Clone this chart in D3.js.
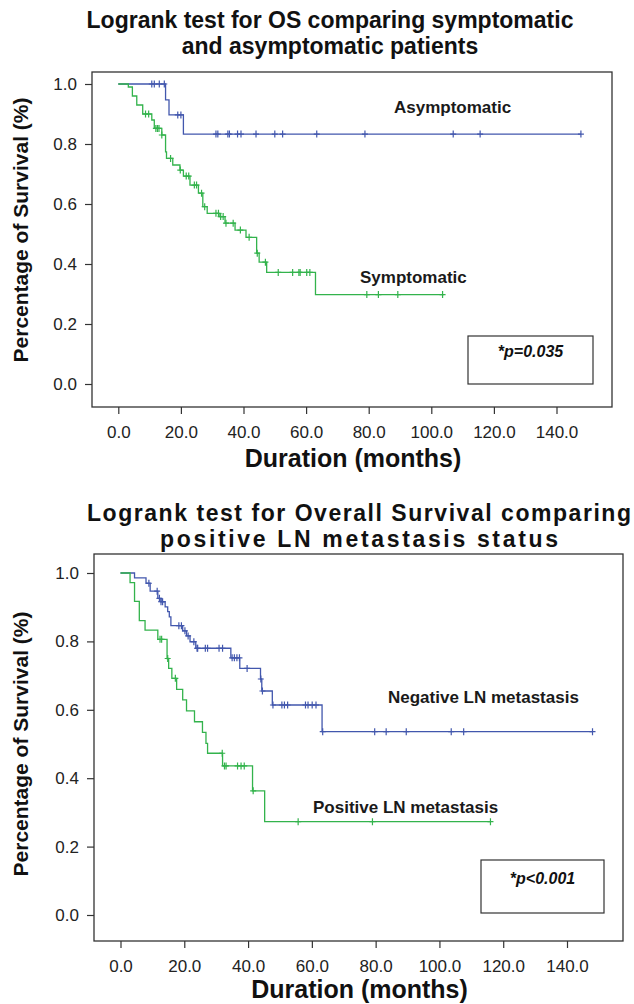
<!DOCTYPE html>
<html>
<head>
<meta charset="utf-8">
<script src="https://cdn.jsdelivr.net/npm/d3@7"></script>
<style>
  body { margin: 0; background: #fff; }
  svg { display: block; font-family: "Liberation Sans", Arial, sans-serif; }
  .tick text { font-size: 17px; fill: #222; }
  .tick line { stroke: #333; stroke-width: 1.2; }
</style>
</head>
<body>
<div id="chart"></div>
<script>
// axis ticks shared by both panels
var xTicks = [0, 20, 40, 60, 80, 100, 120, 140];
var yTicks = [0, 0.2, 0.4, 0.6, 0.8, 1.0];

// panel 1: symptomatic vs asymptomatic (step times in months, survival after step)
var asymTimes = [0, 15.1, 16.2, 20.8];
var asymSurv = [1, 0.947, 0.897, 0.833];
var asymCensor = [10.7, 11.5, 13.1, 14.7, 19.0, 20.0, 31.2, 31.8, 35.0, 35.5, 38.1, 39.2, 44.0, 50.0, 52.5, 63.4, 78.8, 107.0, 115.6, 147.8];
var asymEnd = 147.8;

var symTimes = [0, 3.2, 4.5, 5.9, 7.8, 10.7, 11.5, 13.9, 15.1, 15.4, 17.4, 19.7, 20.8, 22.9, 25.6, 27.0, 28.4, 32.2, 34.1, 37.3, 40.8, 44.2, 45.0, 47.4, 63.0];
var symSurv = [1, 0.99, 0.96, 0.93, 0.90, 0.88, 0.852, 0.83, 0.774, 0.752, 0.73, 0.713, 0.693, 0.663, 0.636, 0.591, 0.569, 0.558, 0.536, 0.513, 0.489, 0.436, 0.406, 0.372, 0.298];
var symCensor = [8.7, 9.7, 12.0, 12.5, 13.0, 13.9, 16.7, 19.8, 21.7, 22.5, 24.3, 25.0, 26.6, 27.6, 31.2, 32.0, 32.7, 33.5, 34.4, 36.7, 39.0, 41.8, 44.4, 47.0, 51.1, 55.7, 57.7, 58.1, 60.2, 61.2, 79.4, 83.1, 89.3, 103.6];
var symEnd = 104;

// panel 2: LN metastasis status
var negTimes = [0, 4.4, 8.0, 9.3, 11.7, 12.7, 14.0, 14.8, 15.3, 15.8, 19.5, 20.7, 21.8, 23.6, 34.6, 37.4, 43.9, 44.3, 47.6, 63.2];
var negSurv = [1, 0.986, 0.970, 0.947, 0.926, 0.916, 0.901, 0.887, 0.872, 0.846, 0.831, 0.816, 0.799, 0.78, 0.752, 0.721, 0.69, 0.655, 0.614, 0.536];
var negCensor = [8.9, 11.5, 12.2, 12.7, 13.2, 18.3, 19.1, 20.2, 21.2, 23.0, 24.0, 24.2, 26.6, 27.3, 30.9, 32.0, 35.0, 35.7, 36.5, 37.3, 39.7, 44.0, 44.5, 47.8, 50.6, 51.4, 52.4, 58.0, 58.8, 60.1, 61.3, 63.4, 79.7, 83.3, 89.6, 103.7, 107.6, 148.0];
var negEnd = 148;

var posTimes = [0, 3.0, 4.4, 5.9, 7.7, 11.7, 14.6, 15.1, 16.1, 17.6, 19.5, 20.7, 23.2, 25.7, 26.8, 27.3, 32.0, 41.4, 45.2];
var posSurv = [1, 0.972, 0.917, 0.861, 0.833, 0.806, 0.75, 0.721, 0.692, 0.66, 0.629, 0.597, 0.565, 0.534, 0.502, 0.473, 0.436, 0.363, 0.273];
var posCensor = [12.4, 12.9, 14.8, 17.2, 31.9, 32.6, 33.1, 36.7, 37.8, 38.8, 41.6, 55.7, 79.0, 116.0];
var posEnd = 116;

var blue = "#4257ad";
var green = "#33b34c";

var svg = d3.select("#chart").append("svg")
  .attr("width", 634)
  .attr("height", 1004);

// survival value at time t (right-continuous step)
function survAt(times, surv, t) {
  var s = surv[0];
  for (var i = 0; i < times.length; i++) {
    if (times[i] <= t) s = surv[i];
  }
  return s;
}

function drawPanel(p) {
  var g = svg.append("g");
  var x = d3.scaleLinear().domain([0, 140]).range([p.x0, p.x140]);
  var y = d3.scaleLinear().domain([0, 1]).range([p.y0, p.y1]);

  // title, two lines
  p.title.forEach(function(line, i) {
    var t = g.append("text")
      .attr("x", p.titleX)
      .attr("y", p.titleY + i * p.titleGap)
      .attr("text-anchor", "middle")
      .style("font-size", "23px")
      .style("font-weight", "bold")
      .attr("fill", "#111")
      .text(line);
    if (p.titleLen) t.attr("textLength", p.titleLen[i]).attr("lengthAdjust", "spacing");
  });

  g.append("rect")
    .attr("x", p.left).attr("y", p.top)
    .attr("width", p.right - p.left).attr("height", p.bottom - p.top)
    .attr("fill", "none").attr("stroke", "#333").attr("stroke-width", 1.3);

  var xAxis = g.append("g")
    .attr("transform", "translate(0," + p.bottom + ")")
    .call(d3.axisBottom(x).tickValues(xTicks).tickFormat(d3.format(".1f")).tickSize(7).tickPadding(12));
  xAxis.select(".domain").remove();

  var yAxis = g.append("g")
    .attr("transform", "translate(" + p.left + ",0)")
    .call(d3.axisLeft(y).tickValues(yTicks).tickFormat(d3.format(".1f")).tickSize(7).tickPadding(8));
  yAxis.select(".domain").remove();

  g.append("text")
    .attr("x", (p.left + p.right) / 2 + 1)
    .attr("y", p.xTitleY)
    .attr("text-anchor", "middle")
    .style("font-size", "25px").style("font-weight", "bold").attr("fill", "#111")
    .text("Duration (months)");

  g.append("text")
    .attr("transform", "translate(28," + p.yTitleY + ") rotate(-90)")
    .attr("text-anchor", "middle")
    .style("font-size", "21px").style("font-weight", "bold").attr("fill", "#111")
    .text("Percentage of Survival (%)");

  // KM curves
  p.series.forEach(function(s) {
    var pts = [];
    s.times.forEach(function(t, i) {
      if (i > 0) pts.push([t, s.surv[i - 1]]);
      pts.push([t, s.surv[i]]);
    });
    pts.push([s.end, s.surv[s.surv.length - 1]]);

    g.append("path")
      .datum(pts)
      .attr("fill", "none")
      .attr("stroke", s.color)
      .attr("stroke-width", 1.3)
      .attr("d", d3.line().x(function(d) { return x(d[0]); }).y(function(d) { return y(d[1]); }));

    g.selectAll(null)
      .data(s.censor)
      .enter().append("path")
      .attr("stroke", s.color)
      .attr("stroke-width", 1.2)
      .attr("d", function(t) {
        var cx = x(t), cy = y(survAt(s.times, s.surv, t));
        return "M" + cx + "," + (cy - 3.5) + "V" + (cy + 3.5) + "M" + (cx - 3) + "," + cy + "H" + (cx + 3);
      });

    g.append("text")
      .attr("x", s.labelX).attr("y", s.labelY)
      .style("font-size", "17px").style("font-weight", "bold").attr("fill", "#1a1a1a")
      .text(s.label);
  });

  // p-value box
  g.append("rect")
    .attr("x", p.box[0]).attr("y", p.box[1]).attr("width", p.box[2]).attr("height", p.box[3])
    .attr("fill", "#fff").attr("stroke", "#333").attr("stroke-width", 1.2);
  g.append("text")
    .attr("x", p.box[0] + p.box[2] / 2).attr("y", p.box[1] + p.pTextDy)
    .attr("text-anchor", "middle")
    .style("font-size", "16px").style("font-weight", "bold").style("font-style", "italic")
    .attr("fill", "#111")
    .text(p.pText);
}

drawPanel({
  title: ["Logrank test for OS comparing symptomatic", "and asymptomatic patients"],
  titleX: 330, titleY: 28, titleGap: 26,
  left: 92, top: 72, right: 612, bottom: 407,
  x0: 118.3, x140: 556.5, y0: 384, y1: 84,
  xTitleY: 467, yTitleY: 230,
  series: [
    { times: asymTimes, surv: asymSurv, censor: asymCensor, end: asymEnd, color: blue,
      label: "Asymptomatic", labelX: 394, labelY: 113 },
    { times: symTimes, surv: symSurv, censor: symCensor, end: symEnd, color: green,
      label: "Symptomatic", labelX: 360, labelY: 283 }
  ],
  box: [468, 336, 125, 48], pTextDy: 21, pText: "*p=0.035"
});

drawPanel({
  title: ["Logrank test for Overall Survival comparing", "positive LN metastasis status"],
  titleLen: [544, 398],
  titleX: 359, titleY: 521, titleGap: 26,
  left: 94, top: 554, right: 623, bottom: 941,
  x0: 120.5, x140: 567, y0: 915, y1: 573,
  xTitleY: 998, yTitleY: 744,
  series: [
    { times: negTimes, surv: negSurv, censor: negCensor, end: negEnd, color: blue,
      label: "Negative LN metastasis", labelX: 388, labelY: 703 },
    { times: posTimes, surv: posSurv, censor: posCensor, end: posEnd, color: green,
      label: "Positive LN metastasis", labelX: 313, labelY: 813 }
  ],
  box: [481, 860, 123, 53], pTextDy: 24, pText: "*p<0.001"
});
</script>
</body>
</html>
